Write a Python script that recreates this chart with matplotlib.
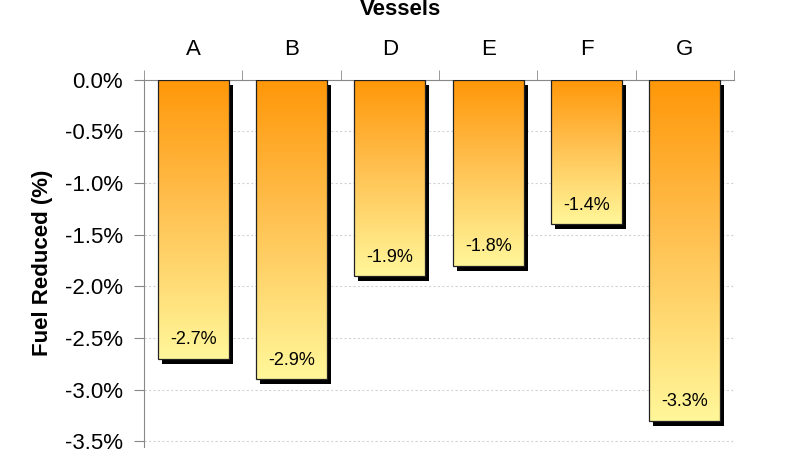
import matplotlib
matplotlib.use("Agg")
import matplotlib.pyplot as plt
import numpy as np
from matplotlib.colors import LinearSegmentedColormap
from matplotlib.ticker import FuncFormatter, FixedLocator
from matplotlib.transforms import ScaledTranslation

plt.rcParams["font.family"] = ["Liberation Sans", "DejaVu Sans"]

vessels = ["A", "B", "D", "E", "F", "G"]
fuel_reduced = [-2.7, -2.9, -1.9, -1.8, -1.4, -3.3]
yticks = [0.0, -0.5, -1.0, -1.5, -2.0, -2.5, -3.0, -3.5]

fig = plt.figure(figsize=(8, 4.5), dpi=100)
ax = fig.add_axes([0.18, 0.0076, 0.7375, 0.8157])

grad = LinearSegmentedColormap.from_list(
    "fuel", [(0.0, "#ff9708"), (0.45, "#ffc050"), (1.0, "#fff79a")])
# drop shadow: same bars shifted a few pixels right/down
shadow_tf = ax.transData + ScaledTranslation(4 / 100, -5 / 100, fig.dpi_scale_trans)

x = np.arange(len(vessels))
w = 0.72
ax.bar(x, fuel_reduced, w, color="black", transform=shadow_tf, zorder=2)
bars = ax.bar(x, fuel_reduced, w, facecolor="none", edgecolor="#222222",
              linewidth=0.9, zorder=4)
g = np.linspace(0, 1, 256).reshape(-1, 1)
for xi, v, b in zip(x, fuel_reduced, bars):
    im = ax.imshow(g, cmap=grad, aspect="auto", origin="upper",
                   extent=(xi - w / 2, xi + w / 2, v, 0), zorder=3,
                   interpolation="bilinear")
    im.set_clip_path(b)
    ax.annotate(f"{v:.1f}%", (xi, v), xytext=(0, 13.5), textcoords="offset points",
                ha="center", va="center", fontsize=13, zorder=5)

ax.set_xlim(-0.5, len(vessels) - 0.5)
ax.set_ylim(-3.55, 0)

ax.xaxis.tick_top()
ax.set_xticks(x)
ax.set_xticklabels(vessels, fontsize=16)
ax.xaxis.set_minor_locator(FixedLocator(np.arange(-0.5, len(vessels), 1.0)))
ax.tick_params(axis="x", which="major", length=0, pad=14)
ax.tick_params(axis="x", which="minor", length=7, color="#888888", direction="out")

ax.yaxis.set_major_locator(FixedLocator(yticks))
ax.yaxis.set_major_formatter(FuncFormatter(lambda v, p: f"{v:.1f}%"))
ax.tick_params(axis="y", labelsize=16, length=7, color="#888888", pad=8)
ax.set_ylabel("Fuel Reduced (%)", fontsize=16, fontweight="bold")
ax.yaxis.set_label_coords(-0.154, 0.5)

ax.yaxis.grid(True, color="#d4d4d4", linestyle=(0, (2, 2)), linewidth=0.8, zorder=0)
ax.set_axisbelow(True)

for s in ["right", "bottom"]:
    ax.spines[s].set_visible(False)
for s in ["left", "top"]:
    ax.spines[s].set_color("#888888")

fig.text(0.5, 1 - 15 / 450, "Vessels", ha="center", va="baseline",
         fontsize=16, fontweight="bold")

fig.savefig("out.png", dpi=100)
